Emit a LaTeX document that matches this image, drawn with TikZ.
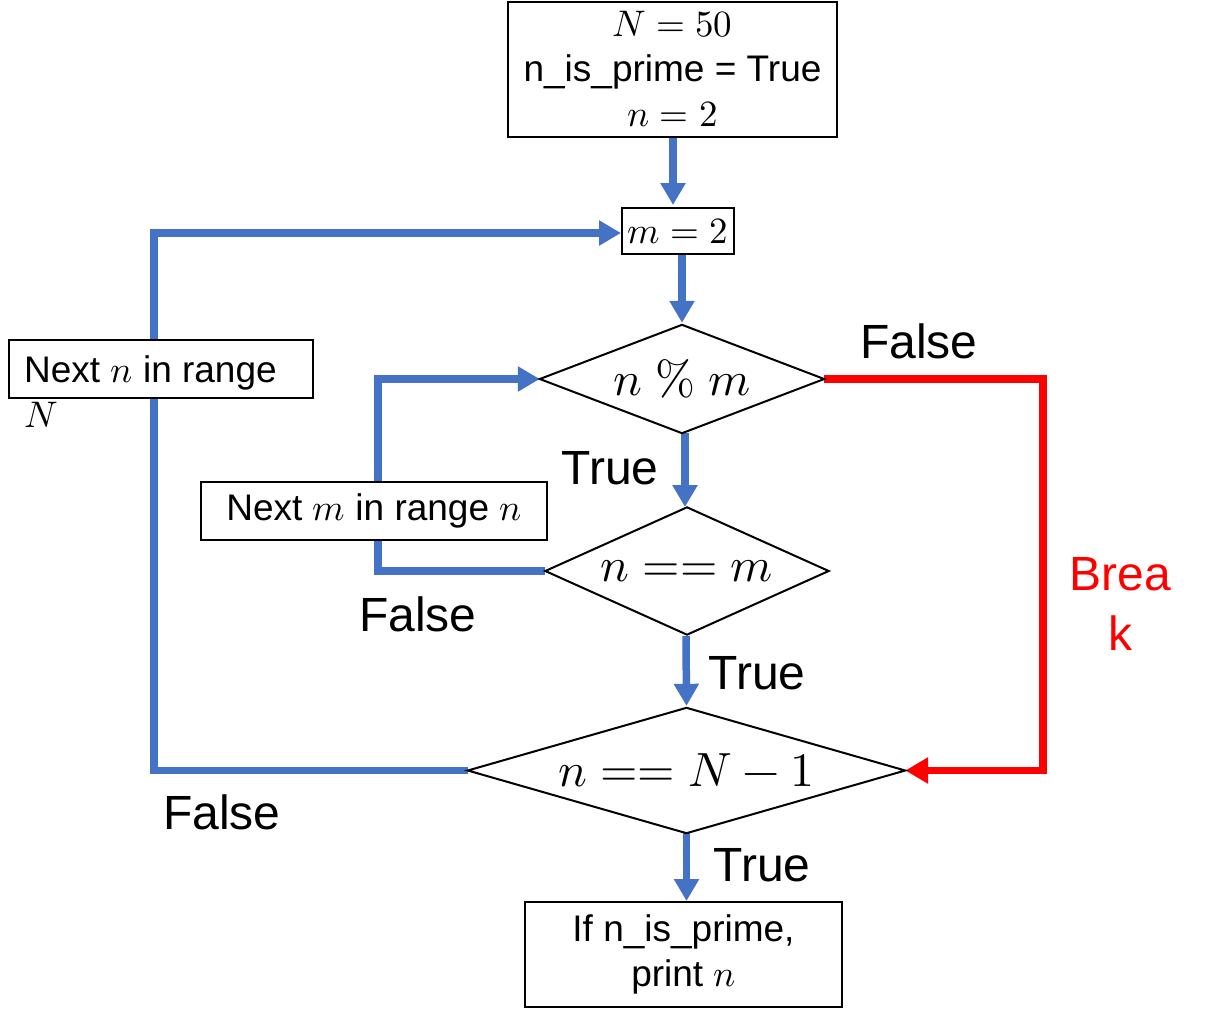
\documentclass[tikz,border=0pt]{standalone}
\usepackage{fontspec}
\usepackage{unicode-math}
\setmainfont{Liberation Sans}
\setmathfont{Latin Modern Math}
\usetikzlibrary{arrows.meta}
\definecolor{flowblue}{HTML}{4472C4}
\definecolor{flowred}{HTML}{FF0000}
\pgfdeclarelayer{background}
\pgfsetlayers{background,main}

\begin{document}
\begin{tikzpicture}[x=1pt,y=-1pt,
  box/.style={draw=black, fill=white, line width=2pt, inner sep=0pt, align=center,
    font=\fontsize{37}{45}\selectfont},
  decision/.style={inner sep=0pt, font=\fontsize{48}{56}\selectfont},
  diamondline/.style={draw=black, line width=2pt, line join=miter},
  flow/.style={draw=flowblue, line width=7.5pt, -{Triangle[length=22pt,width=24pt]}},
  breakflow/.style={draw=flowred, line width=7.5pt, -{Triangle[length=23pt,width=25pt]}},
  lbl/.style={inner sep=0pt, anchor=base, font=\fontsize{48}{58}\selectfont},
  boxtext/.style={inner sep=0pt, anchor=base west, font=\fontsize{37}{45}\selectfont}
]
\useasboundingbox (0,0) rectangle (1205,1023);

% process boxes
\node[box, minimum width=329, minimum height=135] (init) at (672.5,69.5)
  {$N=50$\\n\_is\_prime = True\\$n=2$};
\node[box, minimum width=112, minimum height=46] (mset) at (678,231) {$m=2$};
\node[box, minimum width=346, minimum height=58] (nextm) at (374,511)
  {Next $m$ in range $n$};
\node[box, minimum width=304, minimum height=58] (nextn) at (161,369) {};
\node[boxtext] (nextntxt) at (24,382) {Next $n$ in range};
\node[boxtext] (nextnN) at (24,427) {$N$};
\node[box, minimum width=317, minimum height=105] (result) at (683.5,954.5)
  {If n\_is\_prime,\\print $n$};

% decisions
\node[decision, minimum width=284, minimum height=108] (mod) at (682,379) {$n\;\%\;m$};
\node[decision, minimum width=283, minimum height=127] (eqm) at (687,571) {$n==m$};
\node[decision, minimum width=437, minimum height=125] (last) at (686.5,770.5) {$n==N-1$};
\foreach \d in {mod,eqm,last}
  \draw[diamondline] (\d.north) -- (\d.east) -- (\d.south) -- (\d.west) -- cycle;

% loop corners
\coordinate (mcorner) at (378,379);
\coordinate (ncorner) at (154,233);
\coordinate (bcorner) at (1043,379);

% connectors
\begin{pgfonlayer}{background}
  \draw[flow] ([yshift=3]init.south -| 673,0) -- ([yshift=2]mset.north -| 673,0);
  \draw[flow] (mod.north |- mset.south) -- ([yshift=2]mod.north);
  \draw[flow] (685,433) -- (685,507);
  \draw[flow] (eqm.west) -- (eqm.west -| mcorner) -- (mcorner) -- (mod.west);
  \draw[flow] (686,636) -- ([yshift=2]last.north);
  \draw[flow] (last.west) -- (last.west -| ncorner) -- (ncorner) -- (ncorner -| mset.west);
  \draw[flow] (last.south) -- (result.north -| last.south);
  \draw[breakflow] (mod.east) -- (bcorner) -- (bcorner |- last.east) -- (last.east);
\end{pgfonlayer}

% branch labels
\node[lbl] (fmod) at (919,358) {False};
\node[lbl] (tmod) at (610,484) {True};
\node[lbl] (feqm) at (418,631) {False};
\node[lbl] (teqm) at (757,689) {True};
\node[lbl] (flast) at (222,829) {False};
\node[lbl] (tlast) at (762,881) {True};
\node[lbl, text=flowred] (brk1) at (1120,590) {Brea};
\node[lbl, text=flowred] (brk2) at (1120,650) {k};
\end{tikzpicture}
\end{document}
